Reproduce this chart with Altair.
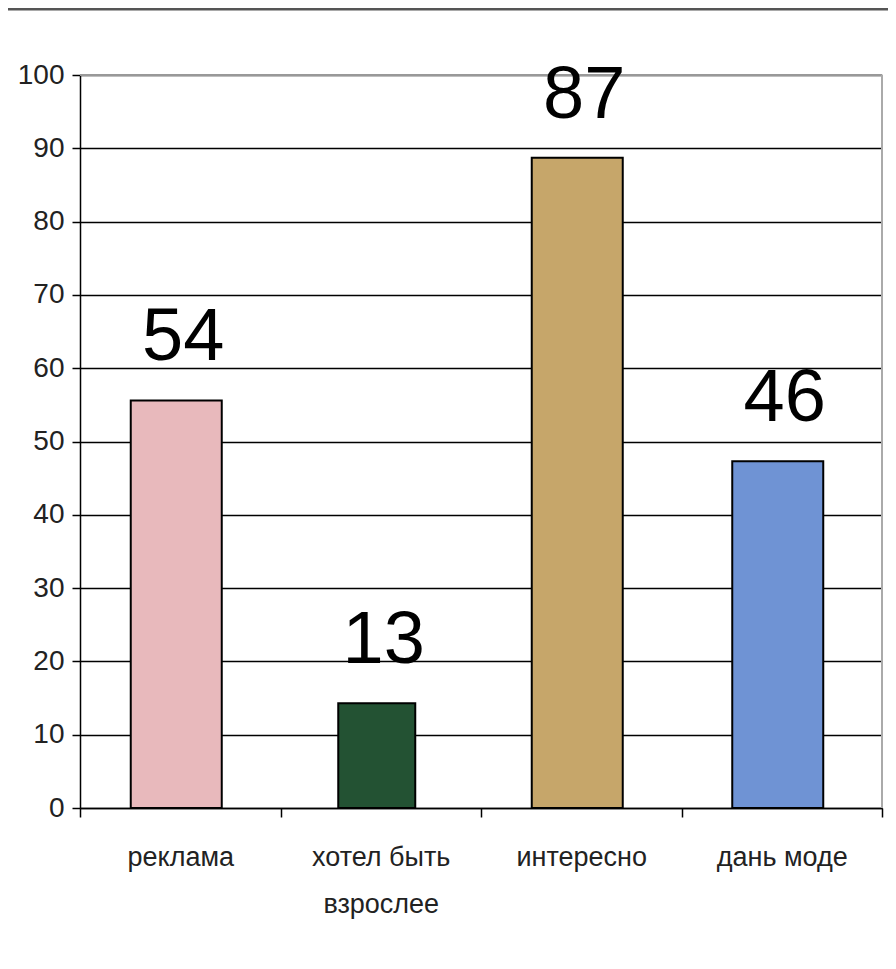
import altair as alt
import pandas as pd

categories = ["реклама", "хотел быть\nвзрослее", "интересно", "дань моде"]
bar_heights = [55.6, 14.3, 88.7, 47.3]
label_values = [54, 13, 87, 46]
bar_colors = ["#e8b9bc", "#235233", "#c6a66a", "#6f93d4"]
y_ticks = [0, 10, 20, 30, 40, 50, 60, 70, 80, 90, 100]

FONT = "Liberation Sans Narrow, Arial Narrow, Liberation Sans, Arial"

df = pd.DataFrame({
    "cat": categories,
    "h": bar_heights,
    "lab": label_values,
    "col": bar_colors,
})

W, H = 802, 733

x_enc = alt.X(
    "cat:N",
    sort=categories,
    scale=alt.Scale(paddingInner=0, paddingOuter=0),
    axis=alt.Axis(
        title=None,
        labelAngle=0,
        labelExpr="split(datum.label, '\\n')",
        labelFont=FONT,
        labelFontSize=27,
        labelColor="#222222",
        labelPadding=27,
        labelLineHeight=47,
        labelBaseline="top",
        tickBand="extent",
        tickSize=9,
        tickColor="#000000",
        domainColor="#000000",
        domainWidth=1.5,
        tickWidth=1.5,
        grid=False,
    ),
)

y_scale = alt.Scale(domain=[0, 100], nice=False)

bars = alt.Chart(df).mark_bar(stroke="#000000", strokeWidth=2, xOffset=-4).encode(
    x=x_enc,
    y=alt.Y(
        "h:Q",
        scale=y_scale,
        axis=alt.Axis(
            title=None,
            values=y_ticks,
            labelFont=FONT,
            labelFontSize=28,
            labelColor="#222222",
            labelPadding=8,
            tickSize=8,
            tickColor="#000000",
            tickWidth=1.5,
            domainColor="#000000",
            domainWidth=1.5,
            grid=True,
            gridColor="#000000",
            gridWidth=1.3,
        ),
    ),
    color=alt.Color("col:N", scale=None, legend=None),
    size=alt.condition(alt.datum.cat == categories[1], alt.value(77), alt.value(91)),
)

texts = alt.Chart(df).mark_text(
    font=FONT, fontSize=74, color="#000000", baseline="alphabetic", dy=-40, dx=3
).encode(
    x=alt.X("cat:N", sort=categories),
    y=alt.Y("h:Q", scale=y_scale),
    text=alt.Text("lab:Q"),
)

frame = alt.Data(values=[{"a": 1}])
top_rule = alt.Chart(frame).mark_rule(color="#999999", strokeWidth=2).encode(
    x=alt.value(0), x2=alt.value(W), y=alt.value(0)
)
right_rule = alt.Chart(frame).mark_rule(color="#aaaaaa", strokeWidth=2).encode(
    x=alt.value(W), y=alt.value(0), y2=alt.value(H)
)
page_rule = alt.Chart(frame).mark_rule(color="#555555", strokeWidth=3).encode(
    x=alt.value(-80), x2=alt.value(900), y=alt.value(-66)
)

chart = alt.layer(top_rule, right_rule, bars, texts, page_rule).properties(
    width=W,
    height=H,
    autosize=alt.AutoSizeParams(type="none"),
    padding={"left": 72, "top": 67, "right": 6, "bottom": 150},
).configure_view(stroke=None).configure(background="#ffffff")

chart.save("out.html", embed_options={"renderer": "svg", "actions": False})
